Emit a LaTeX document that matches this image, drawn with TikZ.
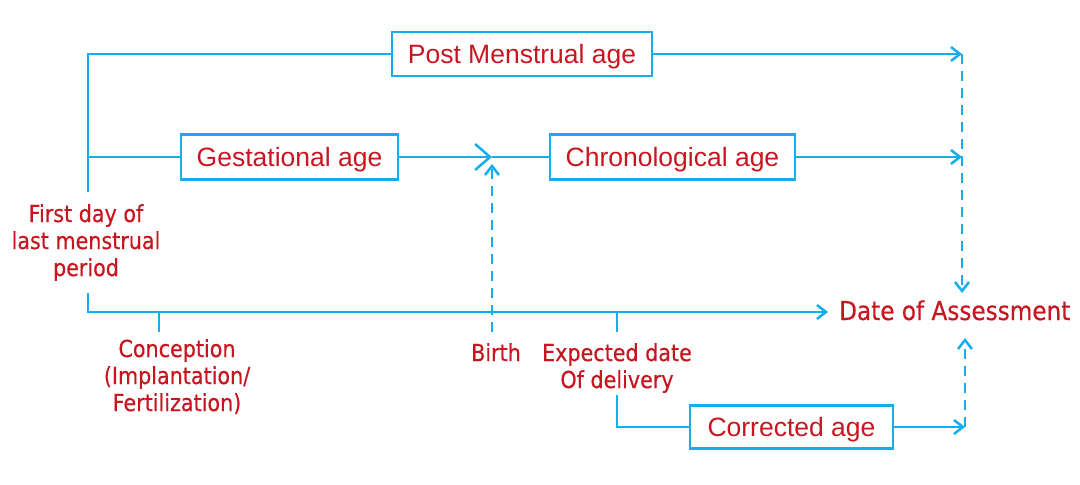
\documentclass[tikz,border=0pt]{standalone}
\usepackage{fontspec}
\usetikzlibrary{arrows.meta}
\setmainfont{Liberation Sans}
\newfontfamily\labfont[FakeStretch=0.88,FakeBold=0.4]{DejaVu Sans}
\newfontfamily\doafont[FakeStretch=0.89,FakeBold=0.4]{DejaVu Sans}
\definecolor{lineblue}{RGB}{20,174,236}
\definecolor{txtred}{RGB}{200,22,32}
\tikzset{
  agebox/.style={draw=lineblue, line width=2.5pt, text=txtred, inner sep=0pt,
    text height=19pt, text depth=0pt,
    font=\fontsize{26.5}{30}\selectfont},
  lbl/.style={text=txtred, inner sep=0pt, align=center,
    font=\labfont\fontsize{23.5}{27}\selectfont},
  conn/.style={draw=lineblue, line width=2.5pt},
  arr/.style={conn, -{Straight Barb[length=9pt,width=14pt,line width=2.5pt]}},
  bigarr/.style={conn, -{Straight Barb[length=15pt,width=26pt,line width=2.5pt]}},
  dasharr/.style={arr, dash pattern=on 10pt off 7pt}
}
\begin{document}
\begin{tikzpicture}[x=1pt,y=-1pt]
\useasboundingbox (0,0) rectangle (1080,485);
% boxes
\node[agebox, minimum width=260pt, minimum height=44pt] (post) at (522,54) {Post Menstrual age};
\node[agebox, minimum width=217pt, minimum height=45pt] (gest) at (289.5,157) {Gestational age};
\node[agebox, minimum width=245pt, minimum height=45pt] (chrono) at (672.5,157) {Chronological age};
\node[agebox, minimum width=203pt, minimum height=43pt] (corr) at (791.5,427) {Corrected age};
% labels
\node[lbl, anchor=north] (lmp) at (86,204) {First day of\\last menstrual\\period};
\node[lbl, anchor=north] (conc) at (177,339) {Conception\\(Implantation/\\Fertilization)};
\node[lbl, anchor=north] (birth) at (496,343) {Birth};
\node[lbl, anchor=north] (edd) at (617,343) {Expected date\\Of delivery};
\node[lbl, anchor=base west, font=\doafont\fontsize{26}{30}\selectfont] (doa) at (839,320) {Date of Assessment};
% coordinates
\coordinate (lTop) at (88,54);
\coordinate (lGest) at (88,157);
\coordinate (lEnd) at (88,192);
\coordinate (lBot) at (88,293);
\coordinate (lCorner) at (88,312);
\coordinate (mainEnd) at (828,312);
\coordinate (pmEnd) at (962,54);
\coordinate (chEnd) at (962,157);
\coordinate (doaTop) at (962,293);
\coordinate (birthPt) at (492,157);
\coordinate (birthLow) at (492,332);
\coordinate (birthTip) at (492,164);
\coordinate (concTop) at (159,312);
\coordinate (concLow) at (159,332);
\coordinate (eddTop) at (617,312);
\coordinate (eddLow) at (617,332);
\coordinate (eddDrop) at (617,395);
\coordinate (eddCorner) at (617,427);
\coordinate (corrEnd) at (965,427);
\coordinate (doaBot) at (965,338);
% connectors
\draw[conn] (post.west) -- (lTop) -- (lEnd);
\draw[conn] (lGest) -- (gest.west);
\draw[arr] (post.east) -- (pmEnd);
\draw[bigarr] (gest.east) -- (birthPt);
\draw[conn] (birthPt) -- (chrono.west);
\draw[arr] (chrono.east) -- (chEnd);
\draw[dasharr] (pmEnd) -- (doaTop);
\draw[arr] (lBot) -- (lCorner) -- (mainEnd);
\draw[conn] (concTop) -- (concLow);
\draw[conn] (eddTop) -- (eddLow);
\draw[dasharr] (birthLow) -- (birthTip);
\draw[conn] (eddDrop) -- (eddCorner) -- (corr.west);
\draw[arr] (corr.east) -- (corrEnd);
\draw[dasharr] (corrEnd) -- (doaBot);
\end{tikzpicture}
\end{document}
